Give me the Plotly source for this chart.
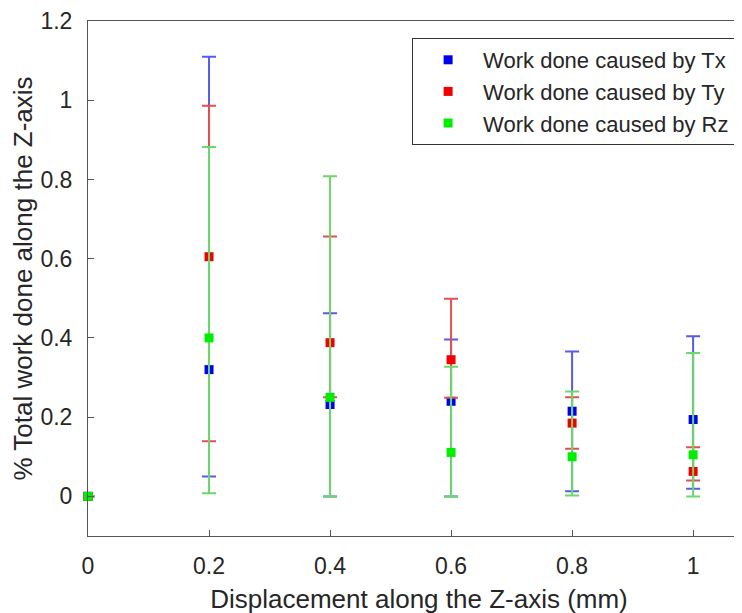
import plotly.graph_objects as go

# displacement (mm)
disp = [0, 0.2, 0.4, 0.6, 0.8, 1.0]

# mean values and error bar ends
tx_mean = [0, 0.320, 0.232, 0.240, 0.215, 0.194]
tx_upper = [0, 1.110, 0.462, 0.396, 0.366, 0.404]
tx_lower = [0, 0.050, 0.0, 0.0, 0.013, 0.019]

ty_mean = [0, 0.605, 0.388, 0.345, 0.185, 0.063]
ty_upper = [0, 0.986, 0.656, 0.499, 0.250, 0.124]
ty_lower = [0, 0.139, 0.250, 0.249, 0.120, 0.040]

rz_mean = [0, 0.400, 0.250, 0.111, 0.100, 0.105]
rz_upper = [0, 0.882, 0.808, 0.327, 0.265, 0.362]
rz_lower = [0, 0.008, 0.0, 0.0, 0.002, 0.0]

series = [
    ("Work done caused by Tx", tx_mean, tx_upper, tx_lower, "#0000f0", "#5a5ae8"),
    ("Work done caused by Ty", ty_mean, ty_upper, ty_lower, "#f00000", "#e25050"),
    ("Work done caused by Rz", rz_mean, rz_upper, rz_lower, "#00ee00", "#6ad86a"),
]

FONT = "Liberation Sans, Arial, sans-serif"

fig = go.Figure()
for i, (name, m, up, lo, mcol, ecol) in enumerate(series):
    fig.add_trace(go.Scatter(
        x=disp,
        y=m,
        mode="markers",
        name=name,
        legendgroup=f"g{i}",
        marker=dict(symbol="square", size=9, color=mcol),
        error_y=dict(
            type="data",
            symmetric=False,
            array=[u - v for u, v in zip(up, m)],
            arrayminus=[v - l for v, l in zip(m, lo)],
            color=ecol,
            thickness=2,
            width=7,
        ),
        cliponaxis=False,
    ))

# the page has an 8px body margin, so the plot is laid out 8px up/left
fig.update_layout(
    width=742,
    height=613,
    margin=dict(l=80, r=0, t=13, b=85),
    plot_bgcolor="white",
    paper_bgcolor="white",
    font=dict(family=FONT, color="#262626"),
    legend=dict(
        x=0.9775, y=0.967, xanchor="right", yanchor="top",
        bgcolor="white", bordercolor="#333333", borderwidth=1,
        font=dict(family=FONT, size=22, color="#262626"),
        tracegroupgap=0,
        itemwidth=60,
    ),
)
fig.update_xaxes(
    range=[0, 1.094],
    tickvals=[0, 0.2, 0.4, 0.6, 0.8, 1.0],
    ticktext=["0", "0.2", "0.4", "0.6", "0.8", "1"],
    ticks="inside", ticklen=6, tickcolor="#555555",
    showline=True, linecolor="#555555", linewidth=1, mirror=True,
    showgrid=False, zeroline=False,
    tickfont=dict(size=23),
    ticklabelstandoff=9,
    automargin=False,
    title=dict(text="Displacement along the Z-axis (mm)", font=dict(size=26), standoff=12),
)
fig.update_yaxes(
    range=[-0.1, 1.2],
    tickvals=[0, 0.2, 0.4, 0.6, 0.8, 1.0, 1.2],
    ticktext=["0", "0.2", "0.4", "0.6", "0.8", "1", "1.2"],
    ticks="inside", ticklen=6, tickcolor="#555555",
    showline=True, linecolor="#555555", linewidth=1, mirror=False,
    showgrid=False, zeroline=False,
    tickfont=dict(size=23),
    ticklabelstandoff=10,
    automargin=False,
    title=dict(text="% Total work done along the Z-axis", font=dict(size=26), standoff=6),
)

fig.write_html("out.html")
